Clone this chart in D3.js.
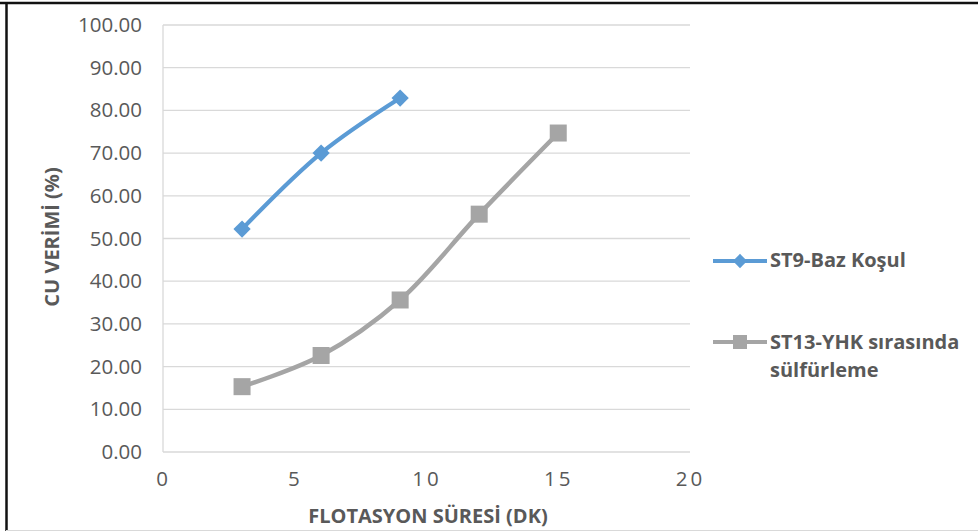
<!DOCTYPE html>
<html>
<head>
<meta charset="utf-8">
<script src="https://cdn.jsdelivr.net/npm/d3@7"></script>
<style>
  html, body { margin: 0; padding: 0; background: #fff; }
  svg { display: block; }
  text { font-family: "Open Sans", "Liberation Sans", sans-serif; fill: #595959; }
</style>
</head>
<body>
<svg id="chart" width="978" height="531"></svg>
<script>
// Flotation time (min) and copper recovery (%) for the two test conditions
const seriesNames = ["ST9-Baz Koşul", "ST13-YHK sırasında sülfürleme"];
const timesST9 = [3, 6, 9];
const recoveryST9 = [52.2, 70.0, 82.9];
const timesST13 = [3, 6, 9, 12, 15];
const recoveryST13 = [15.3, 22.6, 35.6, 55.7, 74.7];
const xTicks = [0, 5, 10, 15, 20];
const yTicks = [0, 10, 20, 30, 40, 50, 60, 70, 80, 90, 100];
const xTitle = "FLOTASYON SÜRESİ (DK)";
const yTitle = "CU VERİMİ (%)";

const svg = d3.select("#chart");
const W = 978, H = 531;

// frame lines round the chart object
svg.append("rect").attr("x", 0).attr("y", 0).attr("width", W).attr("height", H).attr("fill", "#fff");
svg.append("line").attr("x1", 0).attr("x2", W).attr("y1", 3).attr("y2", 3)
  .attr("stroke", "#111").attr("stroke-width", 2.5);
svg.append("line").attr("x1", 6.5).attr("x2", 6.5).attr("y1", 2).attr("y2", H)
  .attr("stroke", "#111").attr("stroke-width", 2.5);
svg.append("line").attr("x1", 6).attr("x2", W).attr("y1", 530.5).attr("y2", 530.5)
  .attr("stroke", "#d9d9d9").attr("stroke-width", 1);

const x = d3.scaleLinear().domain([0, 20]).range([163, 690]);
const y = d3.scaleLinear().domain([0, 100]).range([452, 25]);

// horizontal gridlines
svg.append("g").selectAll("line").data(yTicks).join("line")
  .attr("x1", x(0)).attr("x2", x(20))
  .attr("y1", d => y(d)).attr("y2", d => y(d))
  .attr("stroke", "#d9d9d9").attr("stroke-width", 1.3);
// vertical axis line
svg.append("line").attr("x1", x(0)).attr("x2", x(0)).attr("y1", y(100)).attr("y2", y(0))
  .attr("stroke", "#d9d9d9").attr("stroke-width", 1.3);

// y axis labels
const yAxis = d3.axisLeft(y).tickValues(yTicks).tickFormat(d3.format(".2f")).tickSize(0).tickPadding(21);
const gy = svg.append("g").attr("transform", `translate(${x(0)},0)`).call(yAxis);
gy.select(".domain").remove();
gy.selectAll("text").attr("font-size", 20.5).attr("fill", "#595959")
  .style("font-family", '"Open Sans", sans-serif');

// x axis labels
const xAxis = d3.axisBottom(x).tickValues(xTicks).tickFormat(d3.format("d")).tickSize(0).tickPadding(19);
const gx = svg.append("g").attr("transform", `translate(0,${y(0)})`).call(xAxis);
gx.select(".domain").remove();
gx.selectAll("text").attr("font-size", 20.5).attr("fill", "#595959")
  .attr("letter-spacing", 3)
  .style("font-family", '"Open Sans", sans-serif');

// axis titles
svg.append("text").attr("x", 428).attr("y", 523).attr("text-anchor", "middle")
  .attr("font-size", 20).attr("font-weight", "bold").text(xTitle);
svg.append("text").attr("transform", "translate(59,237) rotate(-90)").attr("text-anchor", "middle")
  .attr("font-size", 20).attr("font-weight", "bold").text(yTitle);

const line = d3.line().curve(d3.curveCatmullRom.alpha(0.5)).x(d => x(d[0])).y(d => y(d[1]));
const blue = "#5b9bd5", grey = "#a5a5a5";

const dataST9 = timesST9.map((t, i) => [t, recoveryST9[i]]);
const dataST13 = timesST13.map((t, i) => [t, recoveryST13[i]]);

svg.append("path").datum(dataST13).attr("d", line).attr("fill", "none")
  .attr("stroke", grey).attr("stroke-width", 4.5).attr("stroke-linejoin", "round");
svg.append("g").selectAll("rect").data(dataST13).join("rect")
  .attr("x", d => x(d[0]) - 8.5).attr("y", d => y(d[1]) - 8.5)
  .attr("width", 17).attr("height", 17).attr("fill", grey);

svg.append("path").datum(dataST9).attr("d", line).attr("fill", "none")
  .attr("stroke", blue).attr("stroke-width", 4.2).attr("stroke-linejoin", "round");
const diamond = d3.symbol().type(d3.symbolDiamond2).size(190);
svg.append("g").selectAll("path").data(dataST9).join("path")
  .attr("d", diamond).attr("transform", d => `translate(${x(d[0])},${y(d[1])})`)
  .attr("fill", blue);

// legend
const lg = svg.append("g");
lg.append("line").attr("x1", 713).attr("x2", 767).attr("y1", 261).attr("y2", 261)
  .attr("stroke", blue).attr("stroke-width", 4);
lg.append("path").attr("d", d3.symbol().type(d3.symbolDiamond2).size(130))
  .attr("transform", "translate(740,261)").attr("fill", blue);
lg.append("text").attr("x", 770).attr("y", 267).attr("font-size", 20).attr("font-weight", "bold")
  .text(seriesNames[0]);

lg.append("line").attr("x1", 713).attr("x2", 767).attr("y1", 342).attr("y2", 342)
  .attr("stroke", grey).attr("stroke-width", 4);
lg.append("rect").attr("x", 733).attr("y", 335).attr("width", 14).attr("height", 14).attr("fill", grey);
const t2 = lg.append("text").attr("x", 770).attr("y", 349).attr("font-size", 20).attr("font-weight", "bold");
t2.append("tspan").attr("x", 770).text("ST13-YHK sırasında");
t2.append("tspan").attr("x", 770).attr("dy", 28).text("sülfürleme");
</script>
</body>
</html>
